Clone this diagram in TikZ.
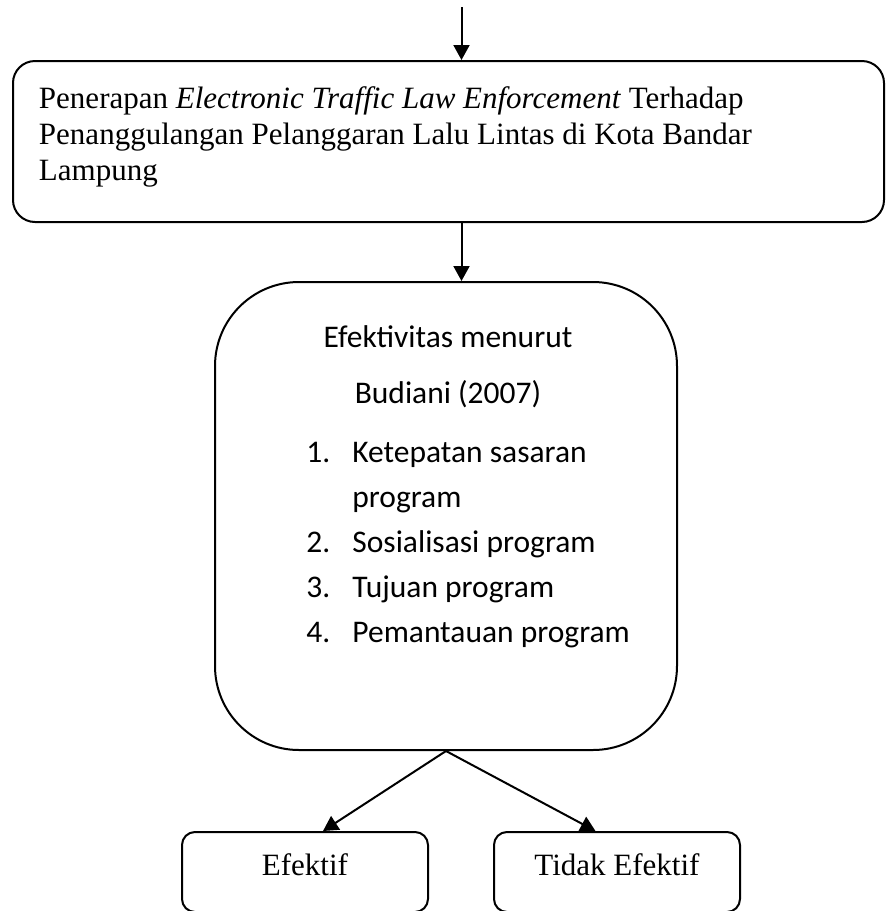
\documentclass[tikz,border=0pt]{standalone}
\usepackage{fontspec}
\setmainfont{Liberation Serif}
\newfontfamily\calibri{Carlito}
\usetikzlibrary{arrows.meta, positioning}

\begin{document}
\begin{tikzpicture}[
    x=0.5pt, y=-0.5pt,
    kotak/.style={draw, line width=1pt, rounded corners=11pt, inner sep=0pt},
    hasil/.style={kotak, rounded corners=6.5pt, teks, minimum width=123pt, minimum height=40pt, text depth=7.5pt},
    panah/.style={-{Triangle[length=7.5pt, width=8pt]}, line width=1pt},
    teks/.style={font=\fontsize{15.5}{18}\selectfont},
    isi/.style={font=\calibri\fontsize{15.75}{22.5}\selectfont, inner sep=0pt}
]
\fill[white] (0,0) rectangle (886,911);
\useasboundingbox (0,0) rectangle (886,911);

\coordinate (awal) at (461.5,7);

\node[kotak, teks, minimum width=435.5pt, minimum height=80.5pt, text width=409.5pt, align=flush left] (atas) at (448.5,141.5)
    {Penerapan \textit{Electronic Traffic Law Enforcement} Terhadap\\
     Penanggulangan Pelanggaran Lalu Lintas di Kota Bandar\\
     Lampung\rule[-8pt]{0pt}{8pt}};

% kotak teori efektivitas
\node[kotak, rounded corners=42pt, minimum width=231pt, minimum height=234pt] (teori) at (446,516) {};
\node[isi, anchor=base] (judul) at (448,347)
    {\begin{tabular}[t]{@{}c@{}}Efektivitas menurut\\[5.5pt] Budiani (2007)\end{tabular}};
\node[isi, anchor=base west] (indikator) at (306,462)
    {\begin{tabular}[t]{@{}p{23pt}@{}l@{}}
     1. & Ketepatan sasaran\\
        & program\\
     2. & Sosialisasi program\\
     3. & Tujuan program\\
     4. & Pemantauan program
     \end{tabular}};

\node[hasil] (efektif) at (305,872) {Efektif};
\node[hasil, right=32pt of efektif] (tidak) {Tidak Efektif};

\draw[panah] (awal) -- (awal |- atas.north);
\draw[panah] (awal |- atas.south) -- (awal |- teori.north);
\draw[panah] (teori.south) -- ([xshift=9pt]efektif.north);
\draw[panah] (teori.south) -- ([xshift=-10.75pt]tidak.north);

\end{tikzpicture}
\end{document}
